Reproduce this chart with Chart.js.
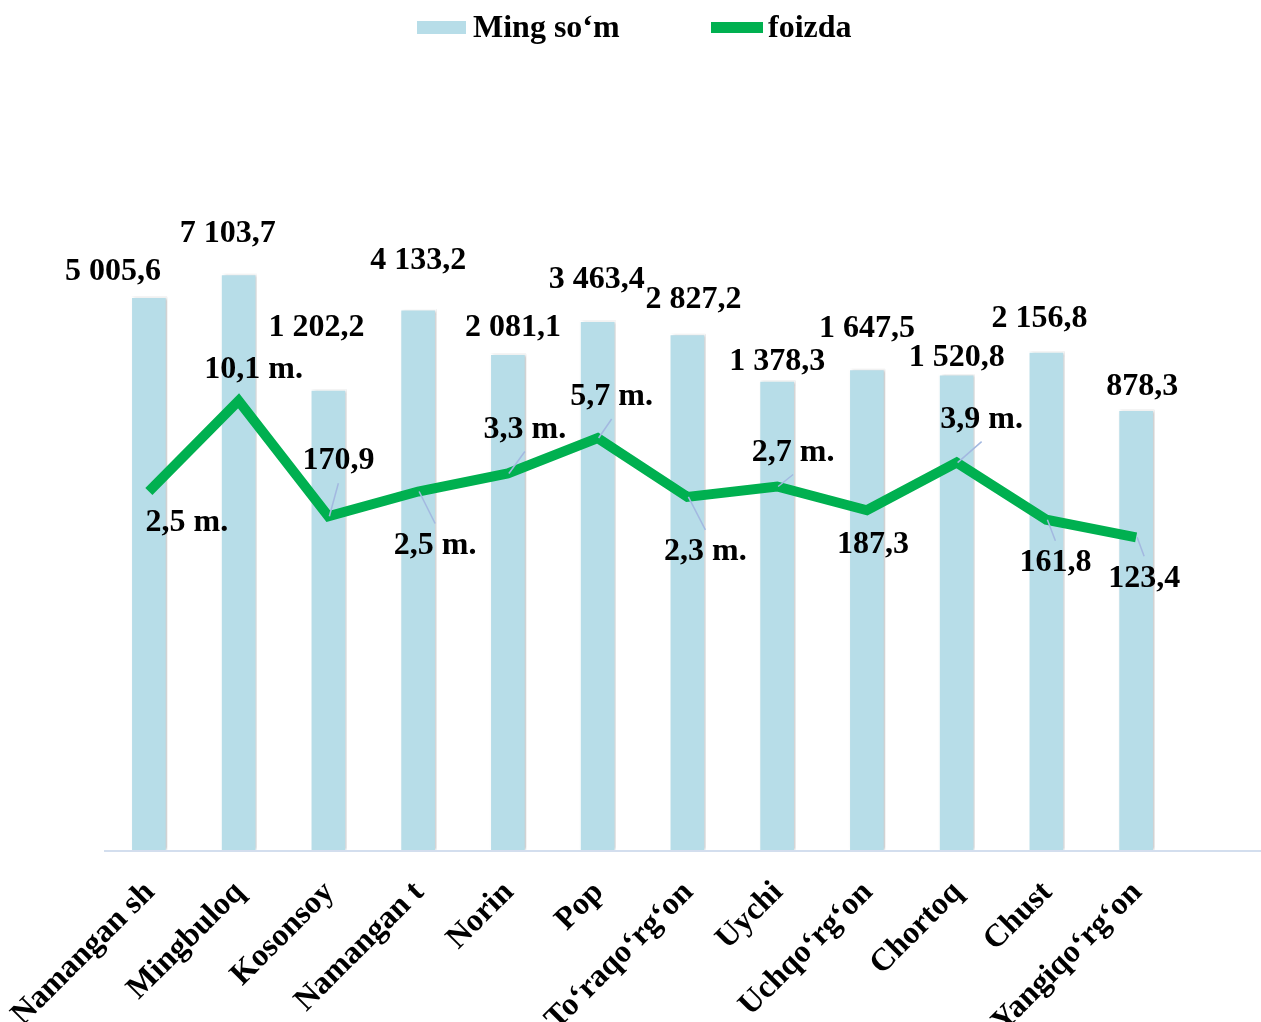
<!DOCTYPE html>
<html>
<head>
<meta charset="utf-8">
<script src="https://cdn.jsdelivr.net/npm/chart.js@4.4.1/dist/chart.umd.min.js"></script>
<style>
  html, body { margin: 0; padding: 0; background: #ffffff; }
  canvas { display: block; }
</style>
</head>
<body>
<canvas id="districtChart" width="1261" height="1022"></canvas>
<script>
/* ================= DATA ================= */
const categories = [
    "Namangan sh", "Mingbuloq", "Kosonsoy", "Namangan t", "Norin", "Pop",
    "To‘raqo‘rg‘on", "Uychi", "Uchqo‘rg‘on", "Chortoq", "Chust", "Yangiqo‘rg‘on"
];

// ming so'm
const amountValues = [5005.6, 7103.7, 1202.2, 4133.2, 2081.1, 3463.4, 2827.2, 1378.3, 1647.5, 1520.8, 2156.8, 878.3];

// foizda (2,5 m. = 250 %)
const percentValues = [250, 1010, 170.9, 250, 330, 570, 230, 270, 187.3, 390, 161.8, 123.4];

const seriesNames = ["Ming so‘m", "foizda"];

/* ================= LABEL PLACEMENT (px, from the mark) ================= */
const amountLabelShift = [[-36, -25], [-11, -40], [-12, -62], [0, -49], [5, -26], [-1, -41],
                          [6, -34], [0, -19], [0, -40], [0, -17], [-7, -33], [6, -23]];
const percentLabelShift = [[38, 31], [15, -31], [10, -55], [17, 54], [17, -44], [14, -41],
                           [18, 55], [16, -34], [6, 34], [25, -43], [9, 43], [8, 41]];
const percentLeader = [false, false, true, true, true, true, true, true, false, true, true, true];

const FONT = "'Liberation Serif', 'Times New Roman', serif";
const BAR_COLOR = "#b7dde8";
const LINE_COLOR = "#00b050";

function formatAmount(v) {
    const parts = v.toFixed(1).split(".");
    return parts[0].replace(/\B(?=(\d{3})+(?!\d))/g, " ") + "," + parts[1];
}

function formatPercent(v) {
    if (v >= 200) {
        return (v / 100).toFixed(1).replace(".", ",") + " m.";
    }
    return v.toFixed(1).replace(".", ",");
}

/* ================= PLUGINS ================= */
const barShadow = {
    id: "barShadow",
    beforeDatasetDraw(chart, args) {
        if (args.index !== 0) return;
        const ctx = chart.ctx;
        ctx.save();
        ctx.shadowColor = "rgba(0, 0, 0, 0.22)";
        ctx.shadowBlur = 3;
        ctx.shadowOffsetX = 2;
        ctx.shadowOffsetY = 0;
    },
    afterDatasetDraw(chart, args) {
        if (args.index !== 0) return;
        chart.ctx.restore();
    }
};

const baseLine = {
    id: "baseLine",
    beforeDatasetsDraw(chart) {
        const { ctx, chartArea } = chart;
        ctx.save();
        ctx.strokeStyle = "#d3deee";
        ctx.lineWidth = 2;
        ctx.beginPath();
        ctx.moveTo(chartArea.left, chartArea.bottom + 1);
        ctx.lineTo(chart.width, chartArea.bottom + 1);
        ctx.stroke();
        ctx.restore();
    }
};

const valueLabels = {
    id: "valueLabels",
    afterDatasetsDraw(chart) {
        const ctx = chart.ctx;
        const barMeta = chart.getDatasetMeta(0);
        const lineMeta = chart.getDatasetMeta(1);

        ctx.save();

        // leader lines
        ctx.strokeStyle = "#a3b8e0";
        ctx.lineWidth = 1.5;
        lineMeta.data.forEach((pt, i) => {
            if (!percentLeader[i]) return;
            const [dx, dy] = percentLabelShift[i];
            const lx = pt.x + dx;
            const ly = pt.y + dy + (dy > 0 ? -22 : 22);
            ctx.beginPath();
            ctx.moveTo(pt.x + (dx > 0 ? 1 : -1), pt.y);
            ctx.lineTo(lx, ly);
            ctx.stroke();
        });

        ctx.fillStyle = "#000000";
        ctx.font = "bold 32px " + FONT;
        ctx.textAlign = "center";
        ctx.textBaseline = "middle";

        barMeta.data.forEach((bar, i) => {
            const [dx, dy] = amountLabelShift[i];
            ctx.fillText(formatAmount(amountValues[i]), bar.x + dx, bar.y + dy);
        });

        lineMeta.data.forEach((pt, i) => {
            const [dx, dy] = percentLabelShift[i];
            ctx.fillText(formatPercent(percentValues[i]), pt.x + dx, pt.y + dy);
        });

        ctx.restore();
    }
};

const topLegend = {
    id: "topLegend",
    afterDraw(chart) {
        const ctx = chart.ctx;
        ctx.save();
        ctx.font = "bold 32px " + FONT;
        ctx.textBaseline = "middle";
        ctx.textAlign = "left";

        // bar series
        ctx.fillStyle = BAR_COLOR;
        ctx.fillRect(417, 21, 49, 13);
        ctx.fillStyle = "#000000";
        ctx.fillText(chart.data.datasets[0].label, 473, 29);

        // line series
        ctx.fillStyle = LINE_COLOR;
        ctx.fillRect(711, 22, 52, 11);
        ctx.fillStyle = "#000000";
        ctx.fillText(chart.data.datasets[1].label, 768, 29);

        ctx.restore();
    }
};

/* ================= CHART ================= */
const ctx = document.getElementById("districtChart").getContext("2d");

new Chart(ctx, {
    type: "bar",
    data: {
        labels: categories,
        datasets: [
            {
                label: seriesNames[0],
                data: amountValues,
                backgroundColor: BAR_COLOR,
                borderColor: "#ffffff",
                borderWidth: 1.5,
                barThickness: 36,
                order: 2
            },
            {
                type: "line",
                label: seriesNames[1],
                data: percentValues,
                borderColor: LINE_COLOR,
                borderWidth: 10,
                borderJoinStyle: "miter",
                borderCapStyle: "butt",
                pointRadius: 0,
                tension: 0,
                fill: false,
                order: 1
            }
        ]
    },
    options: {
        responsive: false,
        animation: false,
        layout: {
            padding: { top: 102.5, left: 104, right: 80, bottom: 0 }
        },
        plugins: {
            legend: { display: false },
            tooltip: { enabled: false }
        },
        scales: {
            x: {
                offset: true,
                grid: { display: false, drawTicks: false },
                border: { display: false },
                ticks: {
                    autoSkip: false,
                    minRotation: 45,
                    maxRotation: 45,
                    padding: 24,
                    labelOffset: 1,
                    color: "#000000",
                    font: { family: FONT, size: 32, weight: "bold" }
                },
                afterFit(scale) {
                    // fixed axis band, labels may hang past the plot edges
                    scale.height = 172;
                    scale.paddingLeft = 0;
                    scale.paddingRight = 0;
                }
            },
            y: {
                type: "logarithmic",
                display: false,
                min: 1,
                max: 100000
            }
        }
    },
    plugins: [barShadow, baseLine, valueLabels, topLegend]
});
</script>
</body>
</html>
